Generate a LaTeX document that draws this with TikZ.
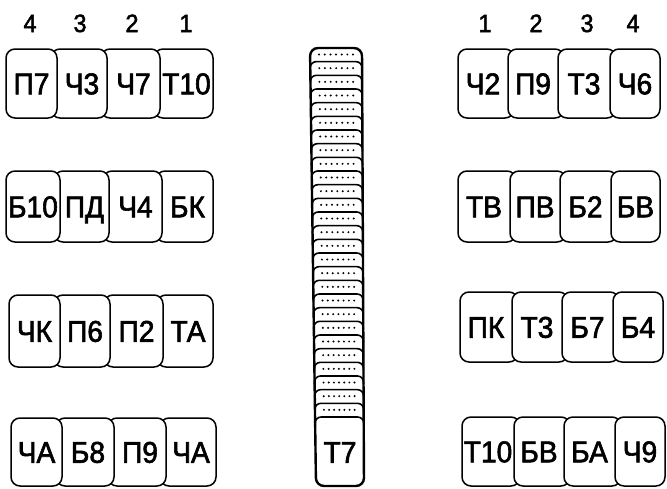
\documentclass[tikz,border=0pt]{standalone}
\usepackage{fontspec}
\setmainfont{Liberation Sans}
\newfontfamily\tilefont[FakeStretch=0.94, FakeBold=2]{Liberation Sans}
\tikzset{
  tile/.style={draw, line width=1.5pt, rounded corners=9pt, fill=white},
  lbl/.style={font=\tilefont\fontsize{30}{30}\selectfont, inner sep=0pt, text height=21.5pt, text depth=0pt},
  num/.style={font=\tilefont\fontsize{25}{25}\selectfont, inner sep=0pt, text height=18pt, text depth=0pt},
  colside/.style={draw, line width=2.4pt, rounded corners=8pt, fill=white},
  sliceline/.style={draw, line width=1.6pt, rounded corners=6pt},
  dotmark/.style={fill=black},
}
\begin{document}
\begin{tikzpicture}[x=1pt,y=-1pt]
\useasboundingbox (0,0) rectangle (667,488);
% left group: leftmost tile in front
\foreach \ya/\yb/\ea/\eb/\ec/\ed/\ee/\la/\lb/\lc/\ld/\r in {
  49/118/6/57/107/160/213/П7/Ч3/Ч7/Т10/1,
  171/242/6/60/109/162/213/Б10/ПД/Ч4/БК/2,
  295/367/9/60/110/163/213/ЧК/П6/П2/ТА/3,
  418/486/11/62/114/166/216/ЧА/Б8/П9/ЧА/4}{
  \draw[tile] (\ed-6,\ya) rectangle (\ee,\yb);
  \draw[tile] (\ec-6,\ya) rectangle (\ed,\yb);
  \draw[tile] (\eb-6,\ya) rectangle (\ec,\yb);
  \draw[tile] (\ea,\ya) rectangle (\eb,\yb);
  \node[lbl] (L\r a) at ({(\ea+\eb)/2},{(\ya+\yb)/2}) {\la};
  \node[lbl] (L\r b) at ({(\eb+\ec)/2},{(\ya+\yb)/2}) {\lb};
  \node[lbl] (L\r c) at ({(\ec+\ed)/2},{(\ya+\yb)/2}) {\lc};
  \node[lbl] (L\r d) at ({(\ed+\ee)/2},{(\ya+\yb)/2}) {\ld};
}
% right group: rightmost tile in front
\foreach \ya/\yb/\ea/\eb/\ec/\ed/\ee/\la/\lb/\lc/\ld/\r in {
  49/118/458/508/558/610/660/Ч2/П9/Т3/Ч6/1,
  171/242/458/510/560/611/660/ТВ/ПВ/Б2/БВ/2,
  292/362/460/512/562/613/663/ПК/Т3/Б7/Б4/3,
  417/486/462/514/564/615/665/Т10/БВ/БА/Ч9/4}{
  \draw[tile] (\ea,\ya) rectangle (\eb+6,\yb);
  \draw[tile] (\eb,\ya) rectangle (\ec+6,\yb);
  \draw[tile] (\ec,\ya) rectangle (\ed+6,\yb);
  \draw[tile] (\ed,\ya) rectangle (\ee,\yb);
  \node[lbl] (R\r a) at ({(\ea+\eb)/2},{(\ya+\yb)/2}) {\la};
  \node[lbl] (R\r b) at ({(\eb+\ec)/2},{(\ya+\yb)/2}) {\lb};
  \node[lbl] (R\r c) at ({(\ec+\ed)/2},{(\ya+\yb)/2}) {\lc};
  \node[lbl] (R\r d) at ({(\ed+\ee)/2},{(\ya+\yb)/2}) {\ld};
}
% column numbers
\node[num] (nl4) at (30,23) {4};
\node[num] (nl3) at (80,23) {3};
\node[num] (nl2) at (132,23) {2};
\node[num] (nl1) at (186,23) {1};
\node[num] (nr1) at (485,23) {1};
\node[num] (nr2) at (536,23) {2};
\node[num] (nr3) at (587,23) {3};
\node[num] (nr4) at (633,23) {4};
% central stack
\path[colside] (316,486) -- (310,48) -- (362,48) -- (364,486) -- cycle;
\foreach \i in {1,...,27}{
  \pgfmathsetmacro\yt{48+\i*13.667}
  \pgfmathsetmacro\xl{310+6*(\yt-48)/438}
  \pgfmathsetmacro\xr{362+2*(\yt-48)/438}
  \path[sliceline] (\xl,\yt+8) -- (\xl,\yt) -- (\xr,\yt) -- (\xr,\yt+8);
}
\foreach \i in {0,...,26}{
  \pgfmathsetmacro\yt{48+\i*13.667+6.5}
  \pgfmathsetmacro\xl{310+6*(\yt-48)/438}
  \pgfmathsetmacro\xr{362+2*(\yt-48)/438}
  \foreach \k in {0,...,6}{
    \fill[dotmark] ({\xl+9+\k*(\xr-\xl-18)/6},\yt) circle (1.1);
  }
}
\node[lbl] (T7) at (340,452) {Т7};
\end{tikzpicture}
\end{document}
